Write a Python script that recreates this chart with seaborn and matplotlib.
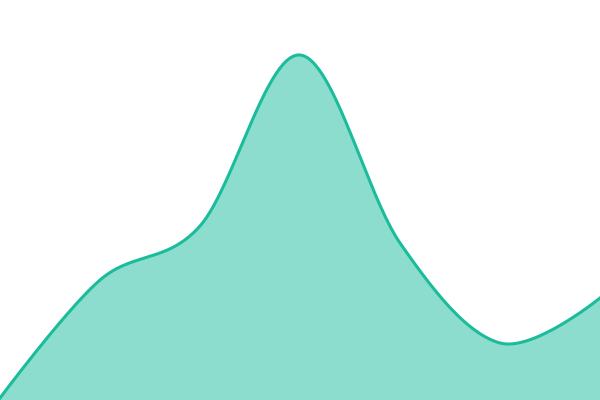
import numpy as np
import pandas as pd
import matplotlib
matplotlib.use("Agg")
import matplotlib.pyplot as plt
import seaborn as sns

# values (one point per step)
steps = [0, 1, 2, 3, 4, 5, 6]
values = [2, 120, 174, 345, 157, 57, 102]

LINE = "#1abc9c"


def cardinal(x, y, tension=0.0, per_seg=60):
    """Cardinal spline drawn as cubic beziers (like d3.curveCardinal)."""
    pts = np.column_stack([x, y]).astype(float)
    k = (1 - tension) / 6
    # pad the ends the same way d3 does: the end tangents lean on the point itself
    padded = np.vstack([pts[1], pts, pts[-2]])
    out = []
    u = np.linspace(0, 1, per_seg)[:, None]
    for i in range(1, len(padded) - 2):
        p0, p1, p2, p3 = padded[i - 1], padded[i], padded[i + 1], padded[i + 2]
        if i == 1:
            c1 = p1
        else:
            c1 = p1 + k * (p2 - p0)
        if i == len(padded) - 3:
            c2 = p2
        else:
            c2 = p2 + k * (p1 - p3)
        seg = ((1 - u) ** 3) * p1 + 3 * ((1 - u) ** 2) * u * c1 + 3 * (1 - u) * u**2 * c2 + u**3 * p2
        out.append(seg if i == 1 else seg[1:])
    out = np.vstack(out)
    return out[:, 0], out[:, 1]


sx, sy = cardinal(steps, values)
curve = pd.DataFrame({"step": sx, "value": sy})

fig = plt.figure(figsize=(6, 4), dpi=100)
ax = fig.add_axes([0, 0, 1, 1])
ax.fill_between(curve["step"], curve["value"], -100, color=LINE, alpha=0.5, lw=0)
sns.lineplot(data=curve, x="step", y="value", ax=ax, color=LINE, lw=2.2, sort=False)
ax.set_xlim(steps[0], steps[-1])
ax.set_ylim(0, 400)
ax.axis("off")
fig.savefig("out.png", dpi=100)
